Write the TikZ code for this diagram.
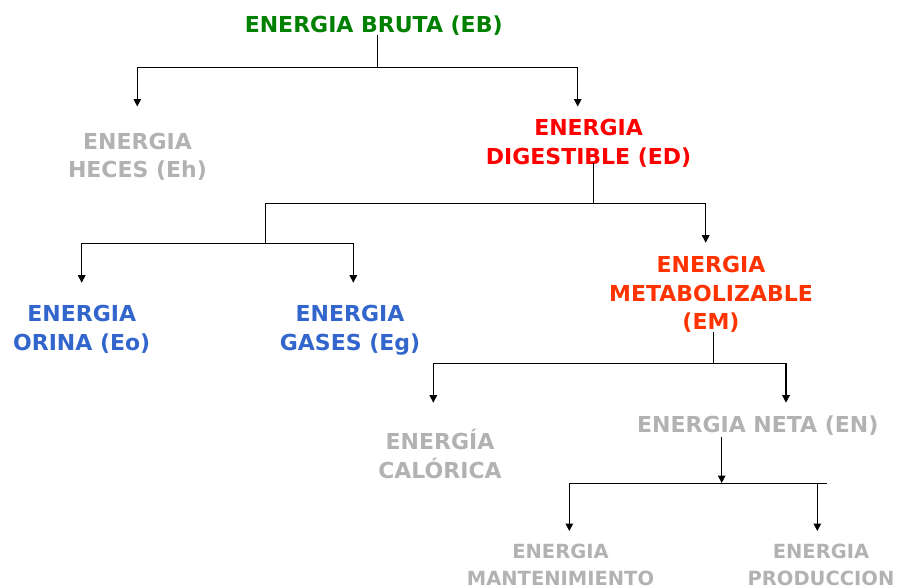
\documentclass[tikz,border=0pt]{standalone}
\usepackage{fontspec}
\setmainfont{DejaVu Sans}
\usetikzlibrary{arrows.meta}

\definecolor{ebgreen}{RGB}{0,128,0}
\definecolor{edred}{RGB}{255,0,0}
\definecolor{emred}{RGB}{255,51,0}
\definecolor{lossblue}{RGB}{51,102,204}
\definecolor{softgray}{RGB}{178,178,178}

% stacked, centred label whose baseline is that of its first line
\newcommand{\stk}[1]{\begin{tabular}[t]{@{}c@{}}#1\end{tabular}}

\tikzset{
  lbl/.style={inner sep=0pt, outer sep=0pt, anchor=base,
    font=\fontsize{22}{28.5}\selectfont\bfseries},
  small lbl/.style={lbl, font=\fontsize{19.5}{26.7}\selectfont\bfseries},
  link/.style={line width=1.25pt, draw=black},
  arr/.style={link, -{Triangle[length=7.5pt,width=7.5pt]}}
}

\begin{document}
\begin{tikzpicture}[x=1pt, y=-1pt]
  \useasboundingbox (0,0) rectangle (897,587);
  \clip (0,0) rectangle (897,587);

  % energy labels
  \node[lbl, text=ebgreen]  (EB) at (373.7,32.3) {ENERGIA BRUTA (EB)};
  \node[lbl, text=softgray] (Eh) at (137.5,149.3) {\stk{ENERGIA\\HECES (Eh)}};
  \node[lbl, text=edred]    (ED) at (588.6,135.7) {\stk{ENERGIA\\DIGESTIBLE (ED)}};
  \node[lbl, text=lossblue] (Eo) at (81.7,321.7) {\stk{ENERGIA\\ORINA (Eo)}};
  \node[lbl, text=lossblue] (Eg) at (350,321.7) {\stk{ENERGIA\\GASES (Eg)}};
  \node[lbl, text=emred]    (EM) at (711,272.7) {\stk{ENERGIA\\METABOLIZABLE\\(EM)}};
  \node[lbl, text=softgray] (EC) at (440,449.3) {\stk{ENERGÍA\\CALÓRICA}};
  \node[lbl, text=softgray] (EN) at (757.8,432.7) {ENERGIA NETA (EN)};
  \node[small lbl, text=softgray] (Emant) at (560.5,558.3) {\stk{ENERGIA\\MANTENIMIENTO}};
  \node[small lbl, text=softgray] (Eprod) at (821,558.3) {\stk{ENERGIA\\PRODUCCION}};

  % junctions and arrow tips
  \coordinate (j1)    at (377.7,67.5);
  \coordinate (tEh)   at (137.3,106.5);
  \coordinate (tED)   at (577.7,106.5);
  \coordinate (j2)    at (593.3,203.3);
  \coordinate (tEM)   at (705.7,242.7);
  \coordinate (j3)    at (265.7,243.3);
  \coordinate (tEo)   at (81.7,282.7);
  \coordinate (tEg)   at (353.3,282.7);
  \coordinate (j4)    at (713.7,363.3);
  \coordinate (tEC)   at (433.3,402.7);
  \coordinate (tEN)   at (786,402.7);
  \coordinate (j5)    at (721.7,483);
  \coordinate (b5l)   at (569.3,483.5);
  \coordinate (b5r)   at (826.7,483.5);
  \coordinate (tMant) at (569.3,531);
  \coordinate (tProd) at (817.3,531);

  % EB splits into faeces and digestible energy
  \draw[link] (EB.south -| j1) -- (j1);
  \draw[arr]  (j1) -| (tEh);
  \draw[arr]  (j1) -| (tED);

  % ED splits into urine/gas losses and metabolizable energy
  \draw[link] ([yshift=9.5pt]ED.south -| j2) -- (j2);
  \draw[arr]  (j2) -| (tEM);
  \draw[link] (j2) -| (j3);
  \draw[arr]  (j3) -| (tEo);
  \draw[arr]  (j3) -| (tEg);

  % EM splits into heat and net energy
  \draw[link] ([yshift=6.5pt]EM.south -| j4) -- (j4);
  \draw[arr]  (j4) -| (tEC);
  \draw[arr]  (j4) -| (tEN);

  % EN splits into maintenance and production
  \draw[arr]  ([yshift=-1pt]EN.south -| j5) -- (j5);
  \draw[link] (b5l) -- (b5r);
  \draw[arr]  (b5l) -- (tMant);
  \draw[arr]  (tProd |- b5r) -- (tProd);
\end{tikzpicture}
\end{document}
